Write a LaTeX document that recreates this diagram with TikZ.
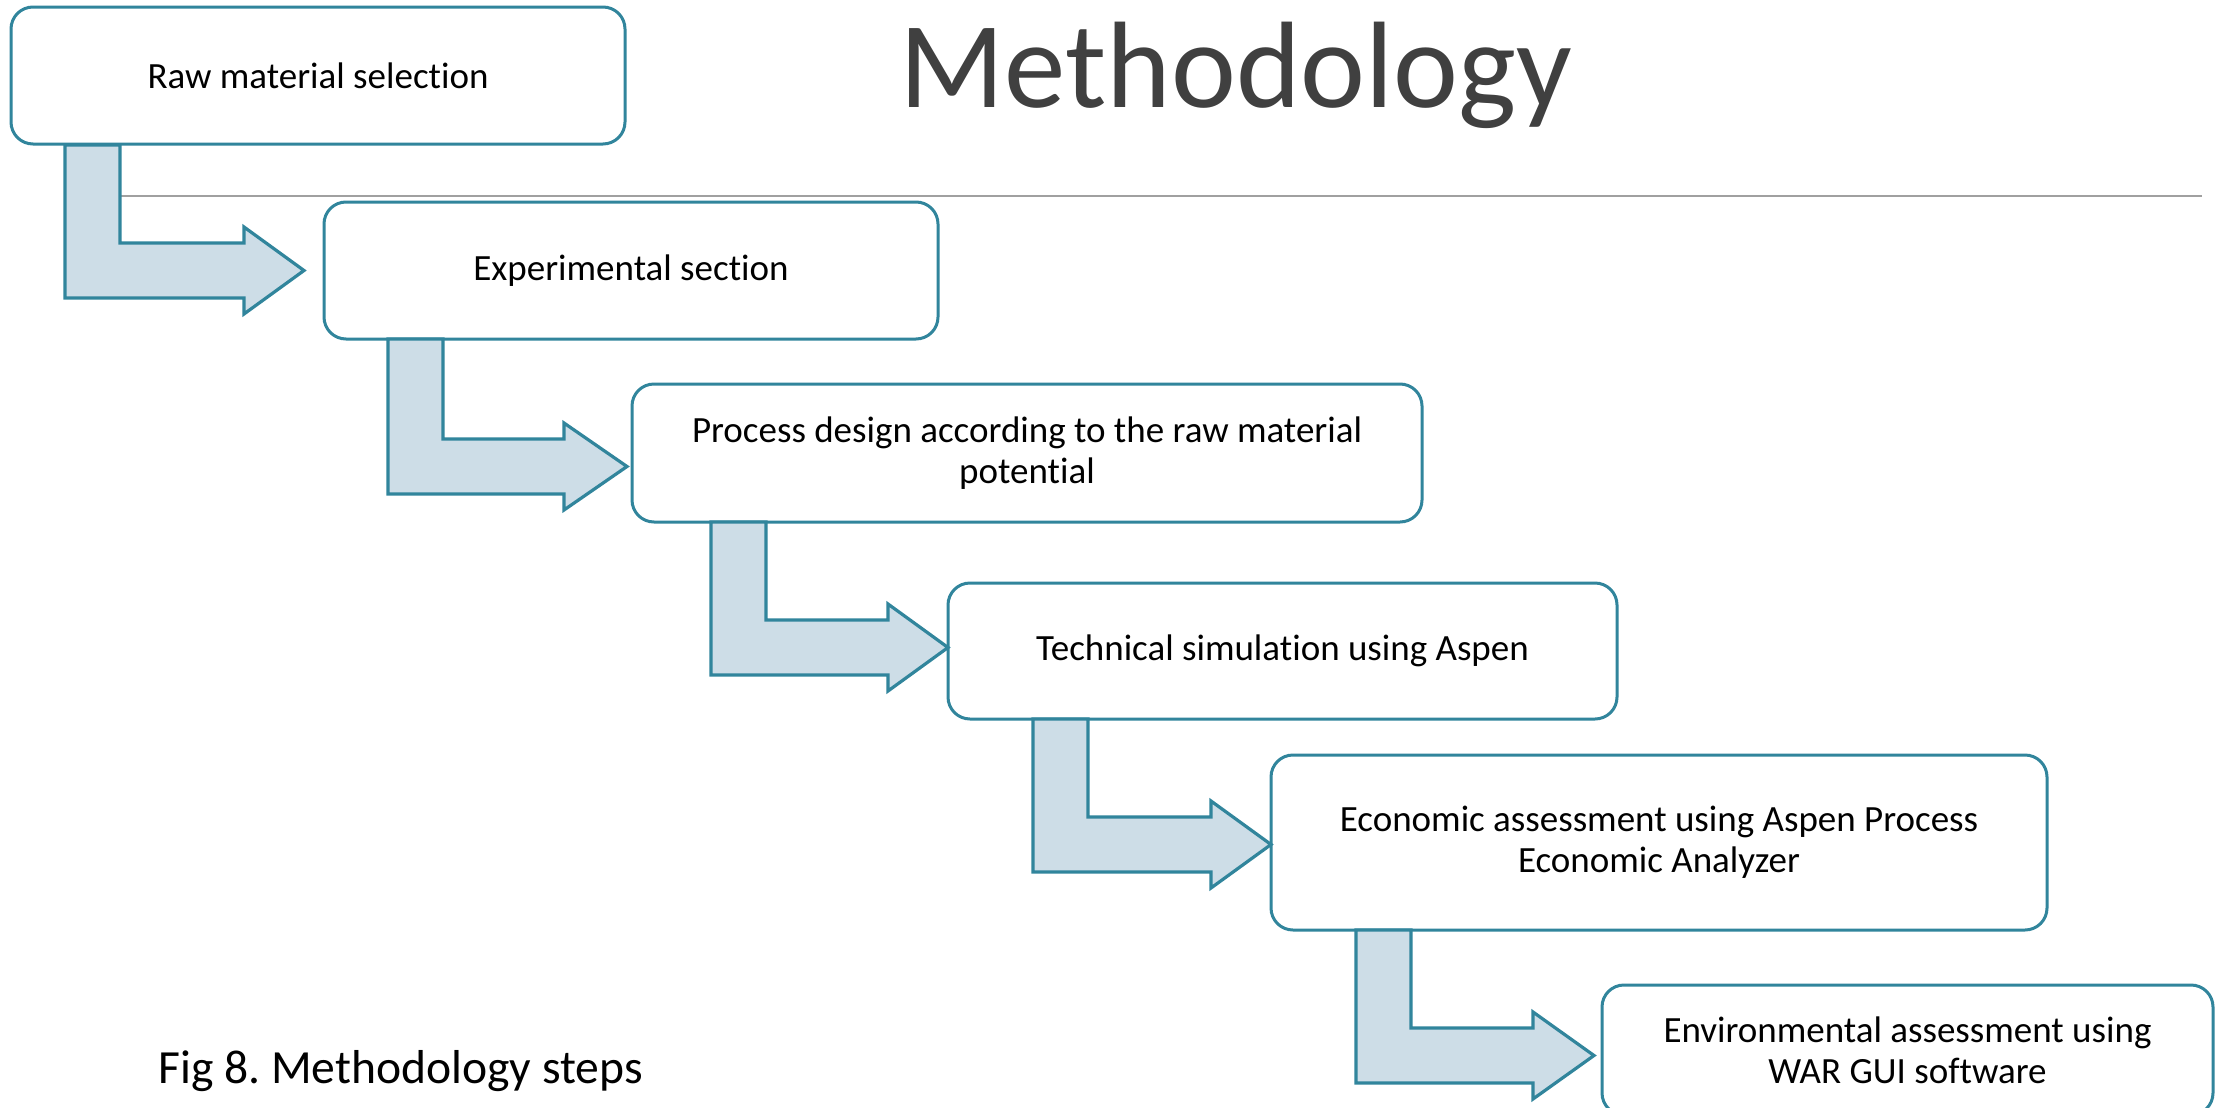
\documentclass[tikz,border=0pt]{standalone}
\usepackage{fontspec}
\setmainfont{Carlito}[RawFeature={-liga;-dlig;-clig;-calt}]
\frenchspacing
\definecolor{edgeblue}{HTML}{31859C}
\definecolor{arrowfill}{HTML}{CDDDE7}
\definecolor{titlegray}{HTML}{404040}
\definecolor{rulegray}{HTML}{A0A0A0}
\tikzset{
  stepbox/.style={draw=edgeblue, line width=1.5pt, fill=white, rounded corners=11pt,
    inner sep=0pt, align=center, font=\fontsize{18.5}{20.5}\selectfont},
  flowarrow/.style={draw=edgeblue, fill=arrowfill, line width=1.6pt, line join=miter},
}
% #1 left x of bar, #2 top y, #3 inner y, #4 head base x, #5 tip x, #6 name
\newcommand\bentarrow[6]{%
  \coordinate (#6) at (#5,#3+27.5);
  \draw[flowarrow] (#1,#2) -- (#1+55,#2) -- (#1+55,#3) -- (#4,#3) -- (#4,#3-16)
    -- (#6) -- (#4,#3+71) -- (#4,#3+55) -- (#1,#3+55) -- cycle;}
\begin{document}
\begin{tikzpicture}[x=0.5pt,y=-0.5pt]
\useasboundingbox (0,0) rectangle (2216,1108);
\clip (0,0) rectangle (2216,1108);
\fill[white] (0,0) rectangle (2216,1108);

% title and rule
\node[anchor=base, text=titlegray, font=\fontsize{61.5}{70}\selectfont, inner sep=0pt] (title) at (1236,107) {Methodology};
\draw[rulegray, line width=1pt] (90,196) coordinate (ruleL) -- (2202,196) coordinate (ruleR);

% boxes
\node[stepbox, minimum width=307pt, minimum height=68.5pt] (b1) at (318,75.5) {Raw material selection};
\node[stepbox, minimum width=307pt, minimum height=68.5pt] (b2) at (631,270.5) {Experimental section};
\node[stepbox, minimum width=395pt, minimum height=69pt] (b3) at (1027,453) {Process design according to the raw material\\potential};
\node[stepbox, minimum width=334.5pt, minimum height=68pt] (b4) at (1282.5,651) {Technical simulation using Aspen};
\node[stepbox, minimum width=388pt, minimum height=87.5pt] (b5) at (1659,842.5) {Economic assessment using Aspen Process\\Economic Analyzer};
\node[stepbox, minimum width=305.5pt, minimum height=65pt] (b6) at (1907.5,1050) {Environmental assessment using\\WAR GUI software};

% bent arrows
\bentarrow{65}{145}{243}{244}{304}{t1}
\bentarrow{388}{339}{439}{564}{627}{t2}
\bentarrow{711}{522}{620}{888}{948}{t3}
\bentarrow{1033}{719}{817}{1211}{1271}{t4}
\bentarrow{1356}{930}{1028}{1533}{1594}{t5}

% caption
\node[anchor=base west, inner sep=0pt, font=\fontsize{23.8}{26}\selectfont] (cap) at (158,1083) {Fig 8. Methodology steps};
\end{tikzpicture}
\end{document}
